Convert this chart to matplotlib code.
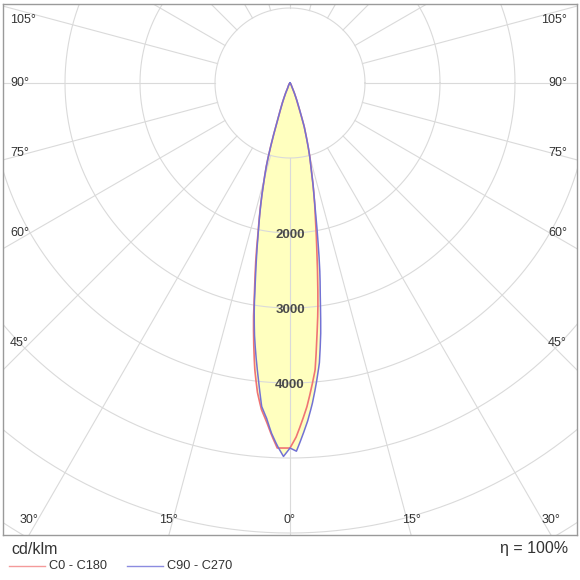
import numpy as np
import matplotlib
matplotlib.use("Agg")
import matplotlib.pyplot as plt
from matplotlib.lines import Line2D

# ---------------- data (cd/klm) ----------------
gamma = [0, 1, 2, 3, 4, 5, 6, 7, 8, 9, 10, 11, 12, 13, 14, 15, 16, 17, 18, 19, 20, 22, 25, 30,
         35, 40, 50, 60, 90]
c0 = [4867, 4720, 4520, 4320, 4080, 3840, 3420, 3050, 2650, 2290, 2000, 1760, 1544, 1340, 1170,
      1020, 870, 730, 620, 450, 354, 215, 73, 40, 25, 15, 6, 2, 0]
c180 = [4867, 4868, 4870, 4700, 4520, 4370, 4150, 3850, 3480, 3100, 2700, 2380, 2050, 1800, 1560,
        1330, 1130, 870, 620, 450, 354, 215, 73, 40, 25, 15, 6, 2, 0]
c90 = [4867, 4910, 4710, 4510, 4280, 4020, 3750, 3360, 2900, 2540, 2150, 1800, 1560, 1340, 1170,
       1020, 870, 730, 620, 450, 354, 215, 73, 40, 25, 15, 6, 2, 0]
c270 = [4867, 4980, 4840, 4680, 4480, 4330, 4000, 3700, 3400, 3050, 2650, 2330, 2030, 1790, 1560,
        1330, 1130, 870, 620, 450, 354, 215, 73, 40, 25, 15, 6, 2, 0]

ring_values = [1000, 2000, 3000, 4000, 5000, 6000, 7000]
ring_labels = [2000, 3000, 4000]
side_angles = [45, 60, 75, 90, 105]
bottom_angles = [0, 15, 30]
series_names = ["C0 - C180", "C90 - C270"]
unit_text = "cd/klm"
eta_text = "\u03b7 = 100%"

# ---------------- style ----------------
plt.rcParams["font.family"] = ["Liberation Sans", "DejaVu Sans"]
RED = "#f07474"
BLUE = "#7272d4"
FILL = "#ffffbf"
GRID = "#dadada"
TXT = "#333333"

W = H = 580
S = 1000.0 / 75.0  # data units per pixel

fig = plt.figure(figsize=(5.8, 5.8), dpi=100)
fig.patch.set_facecolor("white")
ax = fig.add_axes([3 / W, 45 / H, 574 / W, 531 / H])
ax.set_xlim(-287 * S, 287 * S)
ax.set_ylim(-452 * S, 79 * S)
ax.set_xticks([])
ax.set_yticks([])
for sp in ax.spines.values():
    sp.set_color("#9a9a9a")
    sp.set_linewidth(1.0)

# grid rings
t = np.linspace(0, 2 * np.pi, 721)
for r in ring_values:
    ax.plot(r * np.cos(t), r * np.sin(t), color=GRID, lw=0.8, zorder=2)
# radial lines every 15 deg from the first ring
for a in range(0, 360, 15):
    ar = np.radians(a)
    ax.plot([ring_values[0] * np.sin(ar), 9000 * np.sin(ar)],
            [-ring_values[0] * np.cos(ar), -9000 * np.cos(ar)],
            color=GRID, lw=0.8, zorder=2)


def polar_path(g_deg, vals, sign, n=8):
    """Polar-space linear segments between the measured points (as a polar axis draws them)."""
    g = np.array(g_deg, dtype=float)
    v = np.array(vals, dtype=float)
    gg, vv = [], []
    for i in range(len(g) - 1):
        f = np.linspace(0, 1, n, endpoint=False)
        gg.append(g[i] + f * (g[i + 1] - g[i]))
        vv.append(v[i] + f * (v[i + 1] - v[i]))
    gg.append([g[-1]])
    vv.append([v[-1]])
    gg = np.radians(np.concatenate(gg))
    vv = np.concatenate(vv)
    return sign * vv * np.sin(gg), -vv * np.cos(gg)


def loop(left, right):
    xl, yl = polar_path(gamma, left, -1)
    xr, yr = polar_path(gamma, right, 1)
    return np.concatenate([xl[::-1], xr[1:]]), np.concatenate([yl[::-1], yr[1:]])


x1, y1 = loop(c180, c0)
x2, y2 = loop(c270, c90)
ax.fill(x1, y1, color=FILL, lw=0, zorder=1)
ax.fill(x2, y2, color=FILL, lw=0, zorder=1)
ax.plot(x1, y1, color=RED, lw=1.2, zorder=3)
ax.plot(x2, y2, color=BLUE, lw=1.1, zorder=3)

# ring labels
for v in ring_labels:
    ax.text(0, -v - 2.5 * S, str(v), ha="center", va="center", fontsize=9.5,
            fontweight="bold", color="#4a4a4a", zorder=4)

# angle labels on sides
xin = 260 * S
for a in side_angles:
    ar = np.radians(a)
    y = -xin * np.cos(ar) / np.sin(ar)
    y = min(y, 63 * S)
    ax.text(-280 * S, y, f"{a}\u00b0", ha="left", va="center", fontsize=9, color=TXT, zorder=4)
    ax.text(277 * S, y, f"{a}\u00b0", ha="right", va="center", fontsize=9, color=TXT, zorder=4)
# bottom labels
for a in bottom_angles:
    ar = np.radians(a)
    xb = 452 * S * np.tan(ar)
    xb = min(xb, 266 * S)
    for sgn in ([1] if a == 0 else [-1, 1]):
        ax.text(sgn * xb, -437 * S, f"{a}\u00b0", ha="center", va="center", fontsize=9,
                color=TXT, zorder=4)

# footer
fig.text(11 / W, 1 - 550 / H, unit_text, ha="left", va="center", fontsize=11.5, color=TXT)
fig.text(568 / W, 1 - 549 / H, eta_text, ha="right", va="center", fontsize=11.5, color=TXT)
for (x0, x1_, col), name in zip([(9, 45, "#f49a9a"), (127, 163, "#8c8ce0")], series_names):
    fig.add_artist(Line2D([x0 / W, x1_ / W], [1 - 566 / H, 1 - 566 / H], color=col, lw=1.0,
                          transform=fig.transFigure))
    fig.text((x1_ + 4) / W, 1 - 566 / H, name, ha="left", va="center", fontsize=9.2, color=TXT)

fig.savefig("out.png", dpi=100, facecolor="white")
